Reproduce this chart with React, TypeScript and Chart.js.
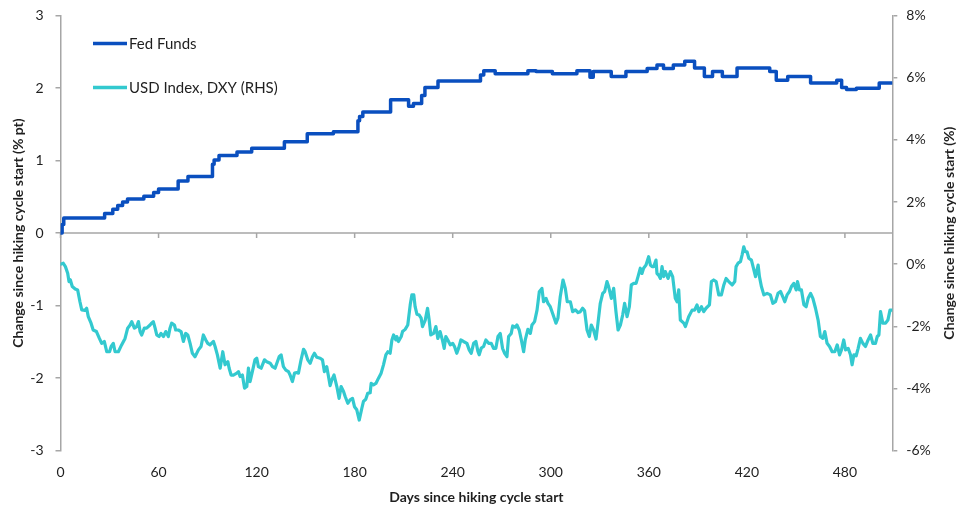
import { useEffect, useRef } from 'react';
import { Chart, registerables } from 'chart.js';

Chart.register(...registerables);

// axis ticks
const xTicks = [0, 60, 120, 180, 240, 300, 360, 420, 480];
const X_MAX = 509;

// Fed Funds: change in % pt, level starts (step series)
const fedDays = [
  0, 1, 2, 27, 32, 35, 38, 41, 51, 57,
  60, 72, 78, 93, 94, 97, 108, 117, 137, 151,
  167, 182, 183, 185, 202, 213, 216, 221, 223, 231,
  257, 259, 266, 286, 291, 301, 316, 324, 326, 337,
  346, 359, 365, 369, 375, 382, 388, 394, 399, 405,
  414, 434, 438, 445, 459, 475, 478, 481, 487, 501,
  509,
];
const fedValues = [
  0, 0.12, 0.21, 0.27, 0.33, 0.38, 0.43, 0.47, 0.51, 0.56,
  0.61, 0.72, 0.78, 0.95, 1.01, 1.07, 1.12, 1.17, 1.26, 1.37,
  1.40, 1.55, 1.61, 1.67, 1.84, 1.75, 1.79, 1.90, 2.01, 2.10,
  2.18, 2.24, 2.20, 2.24, 2.23, 2.20, 2.24, 2.15, 2.23, 2.16,
  2.23, 2.27, 2.32, 2.27, 2.32, 2.37, 2.28, 2.16, 2.23, 2.16,
  2.28, 2.23, 2.11, 2.16, 2.07, 2.11, 2.01, 1.98, 2.00, 2.07,
  2.07,
];

// USD index (DXY): change in %
const dxyDays = [
  0, 1.7, 3, 4.4, 5.2, 6, 7.2, 9, 10.5, 11.9,
  13, 15, 16, 17, 18.7, 20, 22, 23.8, 25.2, 26.8,
  28.3, 30, 31, 32.3, 33.4, 35.4, 37.4, 39.5, 41.1, 42.6,
  43.6, 45.2, 46.6, 47.7, 48.7, 49.7, 51.3, 52.7, 54.8, 55.8,
  56.8, 57.9, 58.9, 60.3, 61.5, 63, 64.4, 66, 67, 68,
  69.7, 70.5, 72.1, 73.8, 75.2, 76.6, 77.9, 79.3, 80.7, 82.3,
  84.4, 86, 87.4, 88.9, 90.1, 91.5, 93.6, 94.6, 96, 97.7,
  99.3, 100.7, 102.4, 103.2, 104.4, 105.8, 107.9, 108.9, 109.9, 111.3,
  112.6, 114, 115, 116, 117.4, 119, 120.1, 121.1, 122.8, 124.8,
  126.2, 128.3, 129.7, 131.3, 133.8, 135, 136.4, 137.9, 139.5, 140.5,
  141.9, 143.2, 144.6, 145.6, 147.2, 148.7, 149.7, 151.3, 152.8, 154.2,
  155.4, 156.8, 158.9, 160.3, 161.5, 162.9, 164, 165, 166, 167.4,
  169.1, 170.5, 171.7, 173.2, 174.2, 175.8, 177.2, 178.7, 179.9, 181.3,
  182.8, 184.4, 185.4, 186.8, 188, 189.5, 190.1, 191.5, 193, 194.6,
  196.2, 197.6, 199.1, 200.3, 201.7, 202.8, 203.8, 205.2, 205.8, 206.8,
  208.5, 209.3, 210.9, 212.5, 214, 215, 216.2, 217, 218.1, 219.5,
  220.7, 221.5, 223.2, 224.6, 225.6, 226.6, 228.3, 229.7, 230.9, 232.3,
  233.8, 234.8, 235.8, 237, 238.5, 240, 241.1, 242.5, 243.6, 245,
  246.6, 248.7, 250.1, 251.3, 252.8, 254.2, 255.4, 256.2, 257.5, 258.9,
  260.3, 262, 263.6, 265, 266.4, 267.7, 269.1, 270.5, 271.8, 273.2,
  274.2, 275.8, 276.7, 278.3, 279.3, 280.7, 282, 283.4, 284.4, 286,
  287.5, 288.5, 290.1, 291.6, 293, 294.6, 295.6, 297.1, 298.3, 299.7,
  301.1, 303.2, 304.4, 305.8, 307.5, 308.9, 310.1, 312, 313.4, 315.1,
  316.7, 318.1, 319.5, 320.7, 322.2, 323.6, 324.8, 326.2, 327.7, 328.9,
  330.3, 331.8, 333, 334.4, 335.4, 337.1, 338.5, 339.9, 341.2, 342.6,
  344, 345.2, 346.7, 348.1, 349.3, 350.8, 352.2, 353.4, 354.8, 355.8,
  356.8, 358.3, 359.9, 361, 362, 363, 364.4, 365, 366, 367.1,
  368.1, 369.1, 370.1, 371.8, 373.2, 374.6, 376.2, 377.3, 378.3, 379.3,
  381.4, 382.4, 384.4, 386.5, 388, 389.5, 390.6, 392.2, 393.6, 395,
  397.1, 398.3, 399.7, 401.2, 402.8, 404.4, 405.9, 407.3, 408.9, 411,
  412.6, 413.4, 414.6, 416.1, 417.1, 418.1, 419.1, 420.1, 421.2, 422.8,
  423.8, 425.3, 426.9, 427.7, 428.9, 430.4, 432.4, 434.4, 435.9, 437.5,
  439.1, 440.6, 442, 443.2, 444.6, 446.1, 447.3, 448.7, 450.2, 451,
  452.2, 453.4, 454.9, 456.3, 457.5, 459, 460.4, 462, 463.6, 465,
  466.5, 467.7, 469.1, 470.6, 472.2, 473.8, 475.3, 476.7, 477.9, 479.3,
  480.4, 482, 483.4, 484.4, 485.5, 486.9, 488.1, 489.5, 491, 492.6,
  494.2, 495.7, 497.1, 498.7, 499.8, 500.8, 501.8, 503.2, 504.9, 506.3,
  507.6, 509,
];
const dxyValues = [
  0, 0.03, -0.08, -0.29, -0.56, -0.5, -0.72, -0.8, -0.83, -1.21,
  -1.47, -1.49, -1.42, -1.69, -1.9, -2.12, -2.17, -2.39, -2.55, -2.49,
  -2.82, -2.82, -2.65, -2.55, -2.82, -2.82, -2.6, -2.39, -2.06, -1.96,
  -1.85, -2.06, -2.01, -1.85, -2.17, -2.28, -2.06, -2.06, -1.96, -1.9,
  -1.85, -2.06, -2.28, -2.33, -2.23, -2.33, -2.17, -2.33, -2.06, -1.9,
  -1.96, -2.12, -2.12, -2.17, -2.49, -2.23, -2.28, -2.55, -2.87, -2.98,
  -2.76, -2.65, -2.28, -2.44, -2.55, -2.6, -2.49, -2.65, -2.92, -3.35,
  -2.82, -3.24, -3.14, -3.35, -3.57, -3.57, -3.51, -3.46, -3.62, -3.57,
  -3.99, -3.94, -3.35, -3.78, -3.46, -3.08, -3.03, -3.3, -3.35, -3.08,
  -3.14, -3.19, -3.3, -3.35, -2.98, -2.92, -3.3, -3.41, -3.46, -3.57,
  -3.78, -3.51, -3.49, -3.51, -3.08, -2.74, -2.82, -3.08, -3.19, -2.98,
  -2.87, -3, -3.03, -3.08, -3.46, -3.3, -3.62, -3.91, -3.73, -3.57,
  -3.94, -4.32, -3.94, -4.1, -4.26, -4.48, -4.37, -4.32, -4.59, -4.69,
  -5.02, -4.64, -4.42, -4.35, -4.16, -4.14, -3.84, -3.89, -3.84, -3.67,
  -3.51, -3.25, -2.92, -2.82, -2.87, -2.44, -2.28, -2.44, -2.33, -2.49,
  -2.33, -2.17, -2.1, -1.96, -1.31, -0.99, -0.99, -1.37, -1.61, -1.64,
  -1.74, -2.01, -1.8, -1.42, -1.8, -2.28, -2.23, -2.01, -2.39, -2.17,
  -2.46, -2.71, -2.33, -2.44, -2.6, -2.55, -2.65, -2.87, -2.71, -2.44,
  -2.49, -2.55, -2.76, -2.87, -2.55, -2.49, -2.8, -2.92, -2.7, -2.65,
  -2.44, -2.55, -2.55, -2.71, -2.71, -2.33, -2.23, -2.71, -2.87, -2.98,
  -2.33, -2.23, -1.99, -2.03, -1.96, -2.12, -2.44, -2.82, -2.44, -2.1,
  -2.23, -1.96, -1.85, -1.48, -0.89, -0.78, -1.21, -1.1, -1.26, -1.37,
  -1.58, -1.9, -1.74, -1.05, -0.51, -0.78, -1.21, -1.21, -1.53, -1.47,
  -1.56, -1.53, -1.42, -1.5, -2.12, -2.33, -1.96, -2.12, -2.41, -1.9,
  -1.26, -0.94, -0.88, -0.56, -0.72, -1.1, -0.78, -1.53, -2.12, -1.96,
  -1.64, -1.26, -1.69, -1.37, -0.67, -0.62, -0.62, -0.4, -0.13, -0.3,
  -0.13, -0.03, 0.24, -0.03, -0.08, -0.08, 0.13, -0.3, -0.35, -0.46,
  -0.08, -0.4, -0.24, -0.46, -0.24, -0.4, -1.1, -1.21, -0.83, -1.8,
  -1.9, -2.01, -1.69, -1.48, -1.48, -1.31, -1.53, -1.37, -1.53, -1.42,
  -1.31, -0.56, -0.51, -0.56, -0.99, -0.99, -0.67, -0.46, -0.56, -0.67,
  -0.56, -0.08, 0.03, 0.08, 0.3, 0.56, 0.4, 0.4, 0.19, 0.13,
  -0.08, -0.4, -0.03, -0.4, -0.72, -0.99, -0.94, -0.99, -1.26, -1.21,
  -0.94, -0.88, -1.05, -1.21, -0.99, -0.88, -0.72, -0.62, -0.83, -0.56,
  -0.83, -0.83, -1.31, -1.37, -1.1, -0.94, -1.1, -1.42, -1.8, -2.33,
  -2.39, -2.17, -2.55, -2.65, -2.82, -2.82, -2.6, -2.92, -2.76, -2.44,
  -2.76, -2.71, -2.92, -3.24, -2.92, -2.95, -2.71, -2.39, -2.55, -2.65,
  -2.44, -2.28, -2.55, -2.55, -2.33, -2.28, -1.53, -1.9, -1.9, -1.8,
  -1.48, -1.48,
];

const FED_COLOR = '#0a4fbf';
const DXY_COLOR = '#33c9cf';
const AXIS_COLOR = '#a6a6a6';
const TEXT_COLOR = '#1f1f1f';
const FONT = 'Lato, "Noto Sans", sans-serif';

const toPoints = (xs: number[], ys: number[]) => xs.map((x, i) => ({ x, y: ys[i] }));

// x axis line sits on the left-axis zero; titles and legend drawn by hand (Excel style)
const decorPlugin = {
  id: 'decor',
  beforeDatasetsDraw(chart: any) {
    const { ctx, chartArea, scales } = chart;
    const y0 = scales.y.getPixelForValue(0);
    ctx.save();
    ctx.strokeStyle = AXIS_COLOR;
    ctx.lineWidth = 1.5;
    ctx.beginPath();
    ctx.moveTo(chartArea.left, y0);
    ctx.lineTo(chartArea.right, y0);
    xTicks.forEach(v => {
      const px = scales.x.getPixelForValue(v);
      ctx.moveTo(px, y0);
      ctx.lineTo(px, y0 + 5);
    });
    ctx.stroke();
    ctx.restore();
  },
  afterDraw(chart: any) {
    const { ctx, chartArea } = chart;
    const midY = (chartArea.top + chartArea.bottom) / 2;
    ctx.save();
    ctx.fillStyle = TEXT_COLOR;
    ctx.font = `bold 14px ${FONT}`;
    ctx.textAlign = 'center';
    ctx.textBaseline = 'middle';

    ctx.fillText('Days since hiking cycle start', (chartArea.left + chartArea.right) / 2, 497);

    ctx.save();
    ctx.translate(18, midY);
    ctx.rotate(-Math.PI / 2);
    ctx.fillText('Change since hiking cycle start (% pt)', 0, 0);
    ctx.restore();

    ctx.save();
    ctx.translate(949, midY);
    ctx.rotate(-Math.PI / 2);
    ctx.fillText('Change since hiking cycle start (%)', 0, 0);
    ctx.restore();

    // legend
    const items = [
      { label: 'Fed Funds', color: FED_COLOR, y: 43.5 },
      { label: 'USD Index, DXY (RHS)', color: DXY_COLOR, y: 87.5 },
    ];
    ctx.font = `15px ${FONT}`;
    ctx.textAlign = 'left';
    items.forEach(it => {
      ctx.strokeStyle = it.color;
      ctx.lineWidth = 3.5;
      ctx.beginPath();
      ctx.moveTo(93, it.y);
      ctx.lineTo(127, it.y);
      ctx.stroke();
      ctx.fillStyle = TEXT_COLOR;
      ctx.fillText(it.label, 129, it.y + 1);
    });
    ctx.restore();
  },
};

function RateDollarChart() {
  const canvasRef = useRef<HTMLCanvasElement | null>(null);
  const chartInstance = useRef<Chart | null>(null);

  useEffect(() => {
    if (!canvasRef.current) return;

    if (chartInstance.current) {
      chartInstance.current.destroy();
      chartInstance.current = null;
    }

    const tickFont = { family: FONT, size: 14 };

    chartInstance.current = new Chart(canvasRef.current, {
      type: 'line',
      data: {
        datasets: [
          {
            label: 'Fed Funds',
            data: toPoints(fedDays, fedValues),
            borderColor: FED_COLOR,
            borderWidth: 3.5,
            stepped: true,
            pointRadius: 0,
            borderJoinStyle: 'round',
            borderCapStyle: 'round',
            yAxisID: 'y',
          },
          {
            label: 'USD Index, DXY (RHS)',
            data: toPoints(dxyDays, dxyValues),
            borderColor: DXY_COLOR,
            borderWidth: 3.2,
            tension: 0,
            pointRadius: 0,
            borderJoinStyle: 'round',
            borderCapStyle: 'round',
            yAxisID: 'y1',
          },
        ],
      },
      options: {
        animation: false,
        responsive: true,
        maintainAspectRatio: false,
        layout: { padding: { top: 15.7, left: 0, right: 0, bottom: 0 } },
        plugins: {
          legend: { display: false },
          tooltip: { enabled: false },
        },
        scales: {
          x: {
            type: 'linear',
            min: 0,
            max: X_MAX,
            afterBuildTicks: (s: any) => { s.ticks = xTicks.map(value => ({ value })); },
            afterFit: (s: any) => { s.height = 57.5; s.paddingLeft = 0; s.paddingRight = 0; },
            grid: { display: false, drawTicks: false },
            border: { display: false },
            ticks: { color: TEXT_COLOR, font: tickFont, padding: 14, maxRotation: 0 },
          },
          y: {
            position: 'left',
            min: -3,
            max: 3,
            afterFit: (s: any) => { s.width = 60.5; s.paddingTop = 0; s.paddingBottom = 0; },
            grid: { drawOnChartArea: false, tickLength: 5, color: AXIS_COLOR, lineWidth: 1.5 },
            border: { color: AXIS_COLOR, width: 1.5 },
            ticks: { stepSize: 1, color: TEXT_COLOR, font: tickFont, padding: 12, callback: (v: any) => String(v) },
          },
          y1: {
            position: 'right',
            min: -6,
            max: 8,
            afterFit: (s: any) => { s.width = 64.7; s.paddingTop = 0; s.paddingBottom = 0; },
            grid: { drawOnChartArea: false, tickLength: 5, color: AXIS_COLOR, lineWidth: 1.5 },
            border: { color: AXIS_COLOR, width: 1.5 },
            ticks: { stepSize: 2, color: TEXT_COLOR, font: tickFont, padding: 9, callback: (v: any) => `${v}%` },
          },
        },
      },
      plugins: [decorPlugin],
    });

    return () => {
      if (chartInstance.current) {
        chartInstance.current.destroy();
        chartInstance.current = null;
      }
    };
  }, []);

  return (
    <div style={{ position: 'absolute', left: 0, top: 0, width: 957, height: 508, background: '#fff' }}>
      <canvas ref={canvasRef} />
    </div>
  );
}

export default function App() {
  return <RateDollarChart />;
}
